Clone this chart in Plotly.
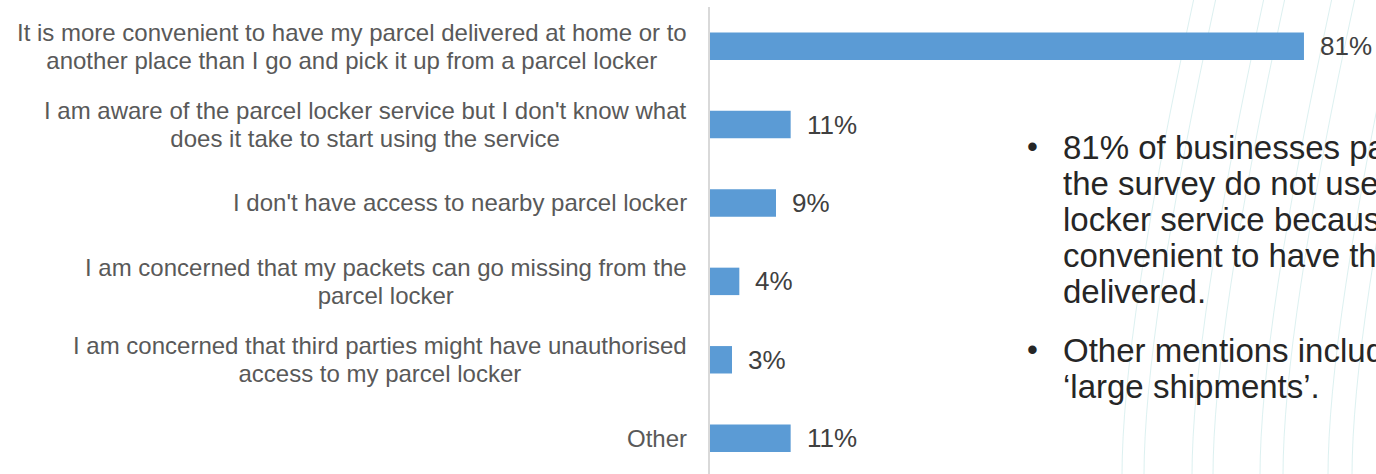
import plotly.graph_objects as go

# Reasons for not using a parcel locker (share of businesses, %)
reason_lines = [
    ["It is more convenient to have my parcel delivered at home or to",
     "another place than I go and pick it up from a parcel locker"],
    ["I am aware of the parcel locker service but I don't know what",
     "does it take to start using the service"],
    ["I don't have access to nearby parcel locker"],
    ["I am concerned that my packets can go missing from the",
     "parcel locker"],
    ["I am concerned that third parties might have unauthorised",
     "access to my parcel locker"],
    ["Other"],
]
shares = [81, 11, 9, 4, 3, 11]

bullet_1 = [
    "81% of businesses participating in",
    "the survey do not use the parcel",
    "locker service because it is more",
    "convenient to have their parcels",
    "delivered.",
]
bullet_2 = [
    "Other mentions include \u2018price\u2019 and",
    "\u2018large shipments\u2019.",
]

categories = [" ".join(lines) for lines in reason_lines]

W, H = 1376, 474
L, T = 710, 7
plot_w, plot_h = W - L, H - T

FONT = "Liberation Sans, Arial, sans-serif"
BAR_BLUE = "#5B9BD5"
LINE_SPACING = 1.3  # plotly's fixed leading, in em of the annotation font


def px_x(x):
    return (x - L) / plot_w


def px_y(y):
    return (H - y) / plot_h


def tight_lines(lines, size, leading):
    """Join lines with <br>, drawn at `size` px but spaced `leading` px apart."""
    txt = "<br>".join(f"<span style='font-size:{size}px'>{ln}</span>" for ln in lines)
    return txt, leading / LINE_SPACING


fig = go.Figure(
    go.Bar(
        x=shares,
        y=categories,
        orientation="h",
        marker=dict(color=BAR_BLUE, line=dict(width=0)),
        width=0.35,
        hoverinfo="skip",
    )
)

annotations = []

# Category labels: right-aligned block, lines centred
for cat, lines in zip(categories, reason_lines):
    txt, base = tight_lines(lines, 24, 27.5)
    annotations.append(dict(
        text=txt, xref="paper", x=0, xanchor="right", xshift=-21,
        yref="y", y=cat, yanchor="middle", align="center", showarrow=False,
        font=dict(family=FONT, size=base, color="#595959"),
    ))

# Value labels next to each bar
for cat, v in zip(categories, shares):
    annotations.append(dict(
        text=f"{v}%", xref="x", x=v, xanchor="left", xshift=14,
        yref="y", y=cat, yanchor="middle", showarrow=False,
        font=dict(family=FONT, size=26, color="#404040"),
    ))

# Bulleted commentary on the right
for lines, top in ((bullet_1, 127), (bullet_2, 330)):
    txt, base = tight_lines(lines, 33, 36)
    annotations.append(dict(
        text=tight_lines(["\u2022"], 31, 36)[0], xref="paper", x=px_x(1032),
        xanchor="center", yref="paper", y=px_y(top), yanchor="top",
        showarrow=False, font=dict(family=FONT, size=base, color="#262626"),
    ))
    annotations.append(dict(
        text=txt, xref="paper", x=px_x(1061), xanchor="left",
        yref="paper", y=px_y(top), yanchor="top", align="left", showarrow=False,
        font=dict(family=FONT, size=base, color="#262626"),
    ))

# Faint decorative sweep of curved lines in the background
shapes = []
for x0 in [1122, 1144, 1192, 1213, 1260, 1283, 1328, 1352, 1398, 1420]:
    p = (f"M {px_x(x0)},{px_y(H + 2)} "
         f"Q {px_x(x0)},{px_y(330)} {px_x(x0 + 72)},{px_y(-2)}")
    shapes.append(dict(type="path", path=p, xref="paper", yref="paper",
                       line=dict(color="rgba(185,226,226,0.5)", width=1),
                       layer="below"))

fig.update_layout(
    width=W, height=H,
    margin=dict(l=L, r=0, t=T, b=0, pad=0),
    paper_bgcolor="white", plot_bgcolor="rgba(0,0,0,0)",
    showlegend=False,
    bargap=0.65,
    annotations=annotations,
    shapes=shapes,
    xaxis=dict(range=[0, plot_w / 7.333], visible=False, fixedrange=True),
    yaxis=dict(
        type="category", categoryorder="array", categoryarray=categories,
        range=[5.457, -0.5], showticklabels=False, ticks="",
        showgrid=False, zeroline=False,
        showline=True, linecolor="#D9D9D9", linewidth=2, fixedrange=True,
    ),
)

fig.write_html("out.html", config={"displayModeBar": False})
